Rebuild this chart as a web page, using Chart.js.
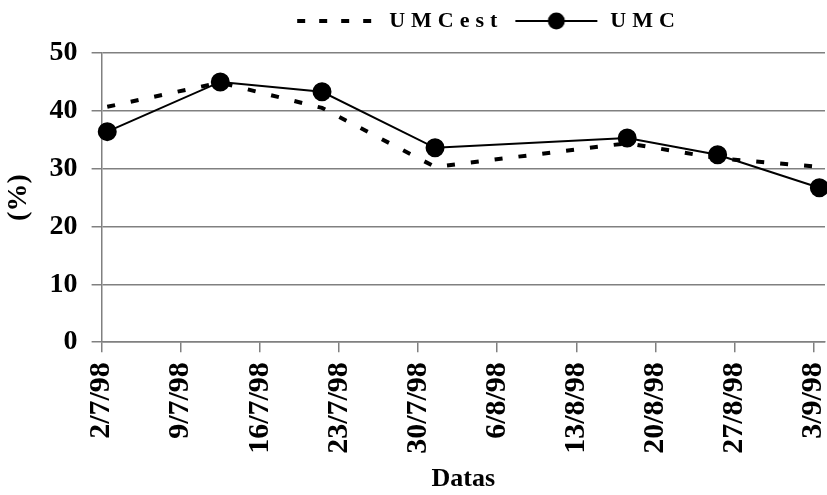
<!DOCTYPE html>
<html>
<head>
<meta charset="utf-8">
<script src="https://cdn.jsdelivr.net/npm/chart.js@4.4.1/dist/chart.umd.min.js"></script>
<style>
  html, body { margin: 0; padding: 0; background: #fff; }
</style>
</head>
<body>
<canvas id="myChart" width="827" height="495"></canvas>
<script>
// measurement dates (d/m/yy) and the two series
const dates = ['2/7/98', '12/7/98', '21/7/98', '31/7/98', '17/8/98', '25/8/98', '3/9/98'];
const umcEst = [40.7, 44.9, 40.5, 30.3, 34.4, 31.8, 30.3];
const umc = [36.4, 45.0, 43.3, 33.6, 35.3, 32.4, 26.7];
const tickLabels = ['2/7/98', '9/7/98', '16/7/98', '23/7/98', '30/7/98', '6/8/98', '13/8/98', '20/8/98', '27/8/98', '3/9/98'];
const seriesNames = ['UMCest', 'UMC'];

const serif = "'Liberation Serif', 'Times New Roman', serif";
const gridGray = '#808080';

// days since the first tick
function dayOf(s) {
    const [d, m, y] = s.split('/').map(Number);
    return (Date.UTC(1900 + y, m - 1, d) - Date.UTC(1998, 6, 2)) / 86400000;
}
// each day is a slot on the axis, the point sits in the middle of it
const toPoints = values => dates.map((d, i) => ({ x: dayOf(d) + 0.5, y: values[i] }));

function dashedSample() {
    const c = document.createElement('canvas');
    c.width = 86; c.height = 20;
    const g = c.getContext('2d');
    g.strokeStyle = '#000';
    g.lineWidth = 4;
    g.setLineDash([8, 14]);
    g.beginPath();
    g.moveTo(5, 10);
    g.lineTo(81, 10);
    g.stroke();
    return c;
}
function markerSample() {
    const c = document.createElement('canvas');
    c.width = 86; c.height = 20;
    const g = c.getContext('2d');
    g.strokeStyle = '#000';
    g.fillStyle = '#000';
    g.lineWidth = 2;
    g.beginPath();
    g.moveTo(2, 10);
    g.lineTo(84, 10);
    g.stroke();
    g.beginPath();
    g.arc(43, 10, 8.5, 0, Math.PI * 2);
    g.fill();
    return c;
}
const samples = [dashedSample(), markerSample()];

// legend text is spaced out, sits right of centre, with room below it
const legendTweak = {
    id: 'legendTweak',
    beforeLayout(chart) {
        const lg = chart.legend;
        if (!lg || lg._spaced) return;
        lg._spaced = true;
        ['fit', 'draw'].forEach(fn => {
            const orig = lg[fn];
            lg[fn] = function() {
                const c = this.ctx;
                const prev = c.letterSpacing;
                c.letterSpacing = '6px';
                orig.apply(this, arguments);
                c.letterSpacing = prev;
                if (fn === 'fit') this.height += 11;
            };
        });
    },
    afterLayout(chart) {
        chart.legend.left += 73;
        chart.legend.right += 73;
    }
};

const ctx = document.getElementById('myChart').getContext('2d');
const myChart = new Chart(ctx, {
    type: 'line',
    data: {
        datasets: [{
            label: seriesNames[0],
            data: toPoints(umcEst),
            borderColor: '#000',
            borderWidth: 4,
            borderDash: [8, 16],
            pointRadius: 0,
            fill: false,
            order: 1,
            clip: false
        }, {
            label: seriesNames[1],
            data: toPoints(umc),
            borderColor: '#000',
            borderWidth: 2,
            pointRadius: 8.5,
            pointBackgroundColor: '#000',
            pointBorderColor: '#000',
            fill: false,
            order: 0,
            clip: false
        }]
    },
    options: {
        responsive: false,
        animation: false,
        devicePixelRatio: 1,
        layout: { autoPadding: false, padding: { left: 2, right: 2, top: 0, bottom: 0 } },
        plugins: {
            tooltip: { enabled: false },
            legend: {
                position: 'top',
                labels: {
                    usePointStyle: true,
                    pointStyleWidth: 86,
                    padding: 10,
                    color: '#000',
                    font: { family: serif, size: 22, weight: 'bold' },
                    generateLabels: chart => seriesNames.map((name, i) => ({
                        text: name,
                        pointStyle: samples[i],
                        fillStyle: '#000',
                        strokeStyle: '#000',
                        lineWidth: 0,
                        hidden: false,
                        datasetIndex: i
                    }))
                }
            }
        },
        scales: {
            x: {
                type: 'linear',
                min: 0,
                max: 64,
                afterBuildTicks: scale => {
                    scale.ticks = tickLabels.map(t => ({ value: dayOf(t) }));
                },
                afterFit: scale => {
                    scale.paddingRight = 0;
                },
                grid: {
                    display: true,
                    drawOnChartArea: false,
                    drawTicks: true,
                    tickLength: 10,
                    color: gridGray,
                    lineWidth: 1.5
                },
                border: { color: gridGray, width: 1.5 },
                ticks: {
                    autoSkip: false,
                    minRotation: 90,
                    maxRotation: 90,
                    padding: 10,
                    color: '#000',
                    font: { family: serif, size: 30, weight: 'bold' },
                    callback: (value, index) => tickLabels[index]
                },
                title: {
                    display: true,
                    text: 'Datas',
                    color: '#000',
                    padding: { top: 0, bottom: 0 },
                    font: { family: serif, size: 26, weight: 'bold' }
                }
            },
            y: {
                min: 0,
                max: 50,
                ticks: {
                    stepSize: 10,
                    padding: 14,
                    color: '#000',
                    font: { family: serif, size: 28, weight: 'bold' }
                },
                grid: {
                    color: gridGray,
                    lineWidth: 1.5,
                    tickLength: 10
                },
                border: { color: gridGray, width: 1.5 },
                title: {
                    display: true,
                    text: '(%)',
                    color: '#000',
                    padding: { top: 0, bottom: 0 },
                    font: { family: serif, size: 28, weight: 'bold' }
                }
            }
        }
    },
    plugins: [legendTweak]
});
</script>
</body>
</html>
